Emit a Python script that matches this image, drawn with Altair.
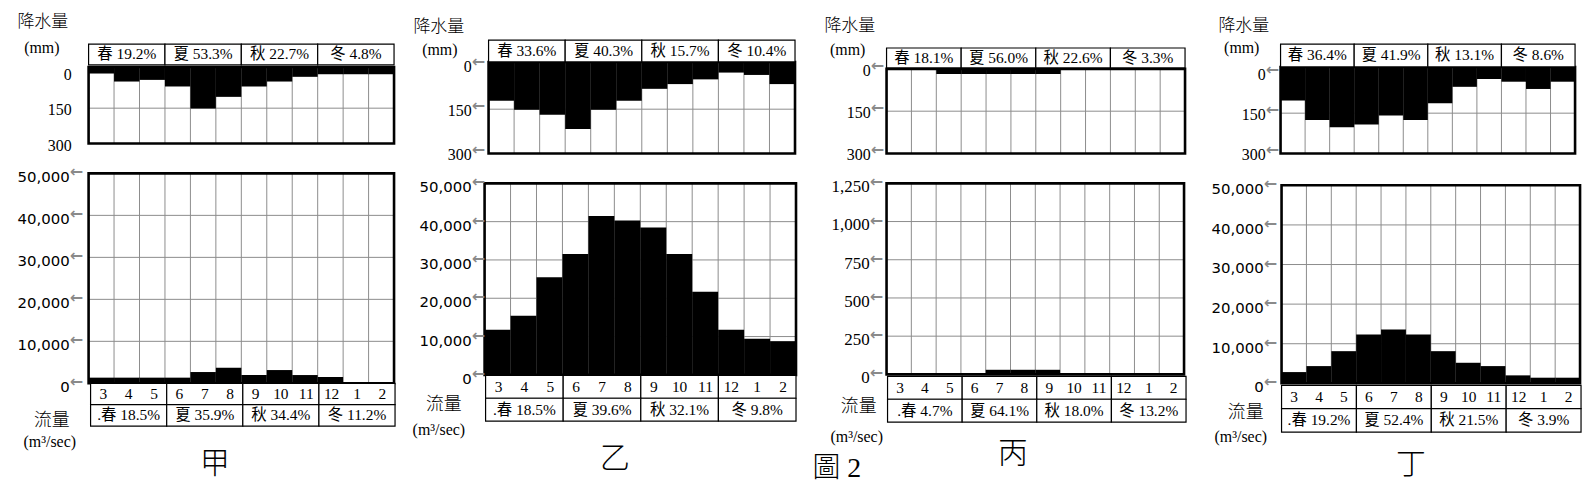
import altair as alt
import pandas as pd

# ---------------- data ----------------
months = ["3", "4", "5", "6", "7", "8", "9", "10", "11", "12", "1", "2"]
panels = ["甲", "乙", "丙", "丁"]

precip_jia = [3, 37, 30, 58, 151, 102, 58, 37, 17, 6, 6, 6]
precip_yi = [121, 152, 169, 217, 152, 121, 81, 65, 49, 26, 34, 65]
precip_bing = [1, 1, 18, 18, 18, 18, 18, 2, 1, 1, 1, 1]
precip_ding = [103, 175, 202, 192, 159, 175, 113, 52, 23, 33, 60, 33]

flow_jia = [1350, 1350, 1350, 1350, 2690, 3710, 1970, 3160, 1970, 1500, 200, 200]
flow_yi = [11800, 15450, 25500, 31560, 41500, 40300, 38500, 31560, 21700, 11800, 9400, 8800]
flow_bing = [3, 3, 3, 3, 30, 30, 30, 3, 3, 3, 3, 3]
flow_ding = [2840, 4350, 8120, 12300, 13570, 12300, 8120, 5190, 4350, 2010, 1420, 1420]

precip_season_jia = ["春 19.2%", "夏 53.3%", "秋 22.7%", "冬 4.8%"]
precip_season_yi = ["春 33.6%", "夏 40.3%", "秋 15.7%", "冬 10.4%"]
precip_season_bing = ["春 18.1%", "夏 56.0%", "秋 22.6%", "冬 3.3%"]
precip_season_ding = ["春 36.4%", "夏 41.9%", "秋 13.1%", "冬 8.6%"]

flow_season_jia = [".春 18.5%", "夏 35.9%", "秋 34.4%", "冬 11.2%"]
flow_season_yi = [".春 18.5%", "夏 39.6%", "秋 32.1%", "冬 9.8%"]
flow_season_bing = [".春 4.7%", "夏 64.1%", "秋 18.0%", "冬 13.2%"]
flow_season_ding = [".春 19.2%", "夏 52.4%", "秋 21.5%", "冬 3.9%"]

precip_ticks = [0, 150, 300]
precip_grid = [150]
flow_ticks = [0, 10000, 20000, 30000, 40000, 50000]
flow_ticks_bing = [0, 250, 500, 750, 1000, 1250]

precip_title = "降水量"
precip_unit = "(mm)"
flow_title = "流量"
flow_unit = "(m³/sec)"
figure_title = "圖 2"
mark_arrow = "←"

# ---------------- layout (pixels in page coordinates) ----------------
M = 8
SERIF = "Liberation Serif, Noto Sans CJK TC"
SANS = "DejaVu Sans"
CJK = "Noto Sans CJK TC"
GRID = "#8c8c8c"
MARKGRAY = "#8a8a8a"

layout = {
    "甲": dict(px=(89, 396), py=(66, 143), pmin=-25, tt=(43, 64),
              fx=(89, 396), fy=(384, 173), fmax=50000,
              bx=(91, 397), by=(384, 427),
              ptx=72, ftx=70, tfont=SANS, tsize=15, parrow=False,
              pt=(43, 21), pu=(42, 47), ft=(52, 422), fu=(50, 443), name=(216, 465)),
    "乙": dict(px=(491, 799), py=(61, 153), pmin=-10, tt=(39, 61),
              fx=(487, 800), fy=(375.5, 183), fmax=50000,
              bx=(488, 800), by=(376, 422),
              ptx=474, ftx=474, tfont=SANS, tsize=15, parrow=True,
              pt=(441, 26), pu=(442, 49), ft=(446, 406), fu=(441, 431), name=(618, 460)),
    "丙": dict(px=(891, 1191), py=(68, 153), pmin=0, tt=(47, 67),
              fx=(891, 1190), fy=(375, 183), fmax=1250,
              bx=(892, 1192), by=(377, 423),
              ptx=875, ftx=874, tfont=SERIF, tsize=17, parrow=True,
              pt=(854, 25), pu=(852, 49), ft=(863, 408), fu=(861, 438), name=(1018, 455)),
    "丁": dict(px=(1287, 1583), py=(66, 153), pmin=-22, tt=(43, 66),
              fx=(1288, 1588), fy=(384, 185), fmax=50000,
              bx=(1288, 1589), by=(386, 433),
              ptx=1272, ftx=1270, tfont=SANS, tsize=15, parrow=True,
              pt=(1250, 25), pu=(1248, 47), ft=(1252, 414), fu=(1247, 438), name=(1418, 466)),
}

data = {
    "甲": (precip_jia, flow_jia, precip_season_jia, flow_season_jia, flow_ticks),
    "乙": (precip_yi, flow_yi, precip_season_yi, flow_season_yi, flow_ticks),
    "丙": (precip_bing, flow_bing, precip_season_bing, flow_season_bing, flow_ticks_bing),
    "丁": (precip_ding, flow_ding, precip_season_ding, flow_season_ding, flow_ticks),
}


def P(v):
    return v - M


def label(text, x, y, size, font=SERIF, align="center", color="black", weight=400):
    return alt.Chart(alt.Data(values=[{"t": text}])).mark_text(
        font=font, fontSize=size, align=align, baseline="middle", color=color, fontWeight=weight
    ).encode(x=alt.value(P(x)), y=alt.value(P(y)), text="t:N")


def xscale(rng):
    return alt.Scale(domain=[0, 12], range=[P(rng[0]), P(rng[1])], nice=False, zero=False)


def chart_group(vals, xr, ys, lo, hi, grid_vals, tick_vals, tick_x, tick_font, tick_size,
                tick_fmt, dy, arrows):
    xs = xscale(xr)
    df = pd.DataFrame({"i": list(range(12)), "v": vals})
    df["i1"] = df["i"] + 1
    df["b"] = lo
    vg = pd.DataFrame({"i": list(range(1, 12))})
    vg["lo"] = lo
    vg["hi"] = hi
    hg = pd.DataFrame({"g": grid_vals})
    hg["a"] = 0
    hg["c"] = 12
    fr = pd.DataFrame({"a": [0], "c": [12], "lo": [lo], "hi": [hi]})
    tk = pd.DataFrame({"t": tick_vals})
    tk["m"] = mark_arrow

    vgrid = alt.Chart(vg).mark_rule(color=GRID, strokeWidth=1).encode(
        x=alt.X("i:Q", scale=xs, axis=None),
        y=alt.Y("lo:Q", scale=ys, axis=None), y2="hi:Q")
    hgrid = alt.Chart(hg).mark_rule(color=GRID, strokeWidth=1).encode(
        x=alt.X("a:Q", scale=xs, axis=None), x2="c:Q",
        y=alt.Y("g:Q", scale=ys, axis=None))
    bars = alt.Chart(df).mark_rect(color="black").encode(
        x=alt.X("i:Q", scale=xs, axis=None), x2="i1:Q",
        y=alt.Y("b:Q", scale=ys, axis=None), y2="v:Q")
    frame = alt.Chart(fr).mark_rect(fillOpacity=0, stroke="black", strokeWidth=2.6).encode(
        x=alt.X("a:Q", scale=xs, axis=None), x2="c:Q",
        y=alt.Y("lo:Q", scale=ys, axis=None), y2="hi:Q")
    ticks = alt.Chart(tk).mark_text(
        font=tick_font, fontSize=tick_size, align="right", baseline="middle", dy=dy, color="black"
    ).encode(
        x=alt.value(P(tick_x)),
        y=alt.Y("t:Q", scale=ys, axis=None),
        text=alt.Text("t:Q", format=tick_fmt))
    parts = [vgrid, hgrid, bars, frame, ticks]
    if arrows:
        arr = alt.Chart(tk).mark_text(
            font=SANS, fontSize=16, align="left", baseline="middle", dy=dy - 5, dx=0,
            color=MARKGRAY, fontWeight="bold"
        ).encode(
            x=alt.value(P(tick_x)),
            y=alt.Y("t:Q", scale=ys, axis=None),
            text="m:N")
        parts.append(arr)
    return alt.layer(*parts)


def table_group(xr, yr, rows):
    """rows: list of ('season', [4 texts]) or ('month', [12 texts])"""
    xs = xscale(xr)
    n = len(rows)
    ys = alt.Scale(domain=[0, n], range=[P(yr[0]), P(yr[1])], nice=False, zero=False)
    cells = []
    texts = []
    for r, (kind, items) in enumerate(rows):
        for k in range(4):
            cells.append({"a": 3 * k, "c": 3 * k + 3, "r0": r, "r1": r + 1})
        if kind == "season":
            for k, s in enumerate(items):
                texts.append({"x": 3 * k + 1.5, "y": r + 0.5, "t": s})
        else:
            for i, s in enumerate(items):
                texts.append({"x": i + 0.5, "y": r + 0.5, "t": s})
    rect = alt.Chart(pd.DataFrame(cells)).mark_rect(fill="white", stroke="black", strokeWidth=1.2).encode(
        x=alt.X("a:Q", scale=xs, axis=None), x2="c:Q",
        y=alt.Y("r0:Q", scale=ys, axis=None), y2="r1:Q")
    txt = alt.Chart(pd.DataFrame(texts)).mark_text(
        font=SERIF, fontSize=15.5, align="center", baseline="middle", color="black"
    ).encode(
        x=alt.X("x:Q", scale=xs, axis=None),
        y=alt.Y("y:Q", scale=ys, axis=None),
        text="t:N")
    return alt.layer(rect, txt)


layers = []
for name in panels:
    L = layout[name]
    pv, fv, ps, fs, fticks = data[name]
    fmax = L["fmax"]
    # precipitation (inverted: 0 at top)
    ys_p = alt.Scale(domain=[L["pmin"], 300], range=[P(L["py"][0]), P(L["py"][1])], nice=False, zero=False)
    layers.append(chart_group(pv, L["px"], ys_p, L["pmin"], 300, precip_grid, precip_ticks,
                              L["ptx"], SERIF, 16, "d", 2, L["parrow"]))
    # top season table
    layers.append(table_group(L["px"], L["tt"], [("season", ps)]))
    # flow
    ys_f = alt.Scale(domain=[0, fmax], range=[P(L["fy"][0]), P(L["fy"][1])], nice=False, zero=False)
    fgrid = [t for t in fticks if 0 < t < fmax]
    layers.append(chart_group(fv, L["fx"], ys_f, 0, fmax, fgrid, fticks,
                              L["ftx"], L["tfont"], L["tsize"], ",", 4, True))
    # bottom table: months + seasons
    layers.append(table_group(L["bx"], L["by"], [("month", months), ("season", fs)]))
    # texts
    layers.append(label(precip_title, L["pt"][0], L["pt"][1], 17, font=CJK, weight=300))
    layers.append(label(precip_unit, L["pu"][0], L["pu"][1], 16))
    layers.append(label(flow_title, L["ft"][0], L["ft"][1], 18, font=CJK, weight=300))
    layers.append(label(flow_unit, L["fu"][0], L["fu"][1], 16))
    layers.append(label(name, L["name"][0], L["name"][1], 30, font=CJK, weight=300))

layers.append(label(figure_title, 841, 470, 28, weight=300))

chart = alt.layer(*layers).resolve_scale(x="independent", y="independent").properties(
    width=1588, height=483, padding=0, autosize="none"
).configure_view(strokeWidth=0)

chart.save("out.html", embed_options={"renderer": "svg", "actions": False})
